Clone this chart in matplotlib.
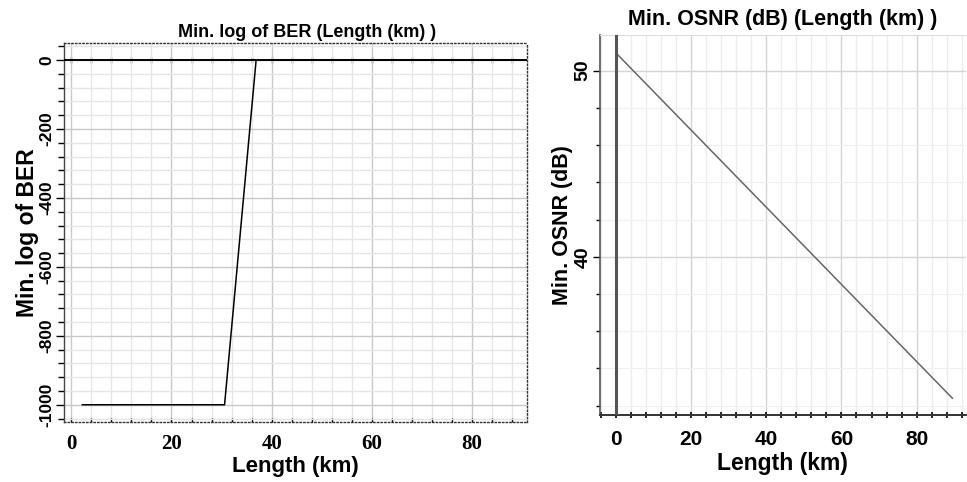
import numpy as np
import matplotlib
matplotlib.use('Agg')
import matplotlib.pyplot as plt
from matplotlib.ticker import MultipleLocator

plt.rcParams['font.family'] = ['Liberation Sans', 'DejaVu Sans']
plt.rcParams['font.weight'] = 'bold'

# Data
ber_len = [2.2, 30.6, 36.9, 90.0]
ber_val = [-1000, -1000, 0, 0]
ber_yticks = [0, -200, -400, -600, -800, -1000]
ber_xticks = [0, 20, 40, 60, 80]

osnr_len = [0.5, 89.5]
osnr_val = [50.85, 32.4]
osnr_yticks = [40, 50]
osnr_xticks = [0, 20, 40, 60, 80]

fig = plt.figure(figsize=(9.67, 4.82), dpi=100)

# Left panel: Min. log of BER
ax1 = fig.add_axes([0.066, 0.1245, 0.479, 0.7865])
ylo, yhi = -1050, 50
ax1.set_xlim(-1.5, 91)
ax1.set_ylim(ylo, yhi)
ax1.xaxis.set_minor_locator(MultipleLocator(4))
ax1.yaxis.set_minor_locator(MultipleLocator(40))
ax1.set_xticks(ber_xticks)
ax1.set_yticks(ber_yticks)
ax1.grid(which='minor', color='#e6e6e6', lw=1.0)
ax1.grid(which='major', color='#c9c9c9', lw=1.0)
ax1.set_axisbelow(True)
ax1.plot(ber_len, ber_val, color='black', lw=1.1, zorder=3)
ax1.axhline(0, color='black', lw=1.4, zorder=3)

for s in ['top', 'right', 'bottom']:
    ax1.spines[s].set_linestyle(':')
    ax1.spines[s].set_linewidth(1.0)
    ax1.spines[s].set_color('#333333')
ax1.spines['left'].set_color('#444444')
ax1.spines['left'].set_linewidth(1.0)

ax1.tick_params(axis='x', which='both', direction='in', length=3, width=1)
ax1.tick_params(axis='y', which='major', direction='out', length=6, width=1)
ax1.tick_params(axis='y', which='minor', direction='out', length=4, width=1)
ax1.set_xticklabels([str(t) for t in ber_xticks], family='Liberation Serif',
                    fontsize=15, fontweight='bold')
ax1.set_yticklabels([str(t) for t in ber_yticks], rotation=90, va='center',
                    family='Liberation Sans', fontsize=12.5, fontweight='bold')
ax1.tick_params(axis='x', pad=9)
ax1.tick_params(axis='y', pad=1)

# tick marks along the zero line
sec = ax1.secondary_xaxis((0 - ylo) / (yhi - ylo))
sec.set_xticks(np.arange(0, 92, 4))
sec.tick_params(direction='inout', length=5, width=1, labelbottom=False,
                labeltop=False)
sec.spines['top'].set_visible(False)
sec.spines['bottom'].set_visible(False)

ax1.set_xlabel('Length (km)', fontsize=16, fontweight='bold', labelpad=1)
ax1.set_ylabel('Min. log of BER', fontsize=16.5, fontweight='bold', labelpad=0)
ax1.set_title('Min. log of BER (Length (km) )', fontsize=13,
              fontweight='bold', pad=4, x=0.525)

# Right panel: Min. OSNR
ax2 = fig.add_axes([0.6205, 0.139, 0.378, 0.788])
ax2.set_xlim(-4.2, 93)
ax2.set_ylim(31.5, 51.9)
ax2.xaxis.set_minor_locator(MultipleLocator(4))
ax2.yaxis.set_minor_locator(MultipleLocator(2))
ax2.set_xticks(osnr_xticks)
ax2.set_yticks(osnr_yticks)
ax2.grid(which='minor', axis='x', color='#ececec', lw=1.0)
ax2.grid(which='minor', axis='y', color='#f0f0f0', lw=0.8)
ax2.grid(which='major', color='#d4d4d4', lw=1.0)
ax2.set_axisbelow(True)
ax2.plot(osnr_len, osnr_val, color='#666666', lw=1.1, zorder=3)
ax2.axvline(0, color='#555555', lw=2.2, zorder=3)

ax2.spines['top'].set_color('#dddddd')
ax2.spines['right'].set_visible(False)
ax2.spines['left'].set_color('#555555')
ax2.spines['left'].set_linewidth(1.2)
ax2.spines['bottom'].set_color('#333333')
ax2.spines['bottom'].set_linewidth(1.4)

ax2.tick_params(axis='x', which='both', direction='inout', length=4, width=1.2)
ax2.tick_params(axis='y', which='major', direction='out', length=5, width=1)
ax2.tick_params(axis='y', which='minor', direction='out', length=3, width=1)
ax2.set_xticklabels([str(t) for t in osnr_xticks], fontsize=15, fontweight='bold')
ax2.set_yticklabels([str(t) for t in osnr_yticks], rotation=90, va='center',
                    fontsize=14, fontweight='bold')
ax2.tick_params(axis='x', pad=9)
ax2.tick_params(axis='y', pad=1)

ax2.set_xlabel('Length (km)', fontsize=16.5, fontweight='bold', labelpad=2)
ax2.set_ylabel('Min. OSNR (dB)', fontsize=15.5, fontweight='bold', labelpad=1)
ax2.set_title('Min. OSNR (dB) (Length (km) )', fontsize=15.5,
              fontweight='bold', pad=7)

fig.savefig('out.png', dpi=100)
